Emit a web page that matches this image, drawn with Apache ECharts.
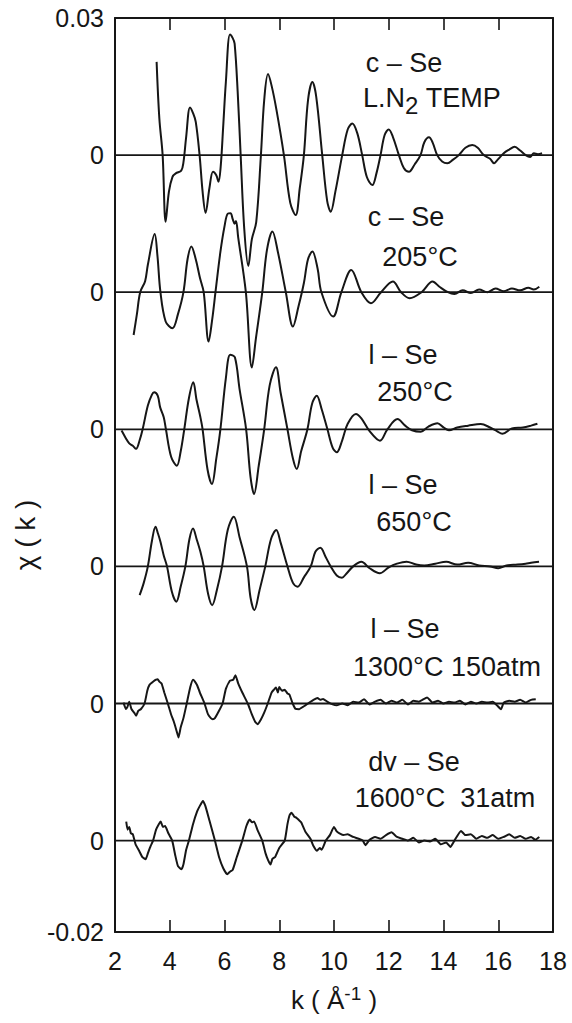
<!DOCTYPE html>
<html>
<head>
<meta charset="utf-8">
<script src="https://cdn.jsdelivr.net/npm/echarts@6/dist/echarts.min.js"></script>
<style>
html,body{margin:0;padding:0;background:#fff;}
#chart{width:572px;height:1023px;}
</style>
</head>
<body>
<div id="chart"></div>
<script>
// ---- Data (k in Å^-1, chi in units of 1e-3) ----
const xTicks = [2, 4, 6, 8, 10, 12, 14, 16, 18];
const kRange = [2, 18];
const yLabelValues = [0.03, 0.0225, 0.015, 0.0075, 0, -0.0075, -0.015, -0.02];
const yLabelTexts = ['0.03', '0', '0', '0', '0', '0', '0', '-0.02'];
const curveOffsets = [0.0225, 0.015, 0.0075, 0, -0.0075, -0.015];
const chiUnit = 0.001;

const kLN2 = [3.52,3.62,3.74,3.85,3.97,4.1,4.22,4.42,4.5,4.6,4.74,4.85,4.95,5.09,5.2,5.31,5.45,5.58,5.7,5.78,5.86,5.95,6.05,6.2,6.3,6.37,6.48,6.59,6.72,6.87,7.0,7.16,7.33,7.45,7.59,7.72,7.9,8.17,8.4,8.6,8.75,8.9,9.05,9.21,9.35,9.57,9.75,9.88,10.05,10.3,10.5,10.67,10.85,11.03,11.2,11.4,11.55,11.7,11.85,12.0,12.15,12.37,12.55,12.74,12.95,13.16,13.3,13.47,13.6,13.77,13.95,14.14,14.35,14.56,14.8,15.05,15.25,15.47,15.7,15.85,15.95,16.2,16.4,16.6,16.8,17.0,17.17,17.3,17.45,17.6];
const chiLN2 = [5.1,2.0,0,-3.65,-2.0,-1.19,-1.0,-0.85,-0.4,1.0,2.61,2.3,1.82,0,-2.0,-3.16,-1.8,-0.91,-1.1,-1.46,-0.64,1.5,4.0,6.6,6.4,6.1,3.5,0,-4.0,-6.06,-4.6,-3.65,0,3.0,4.43,3.8,2.46,0,-2.6,-3.28,-1.8,0,3.0,4.0,3.2,0,-2.5,-3.1,-2.0,0,1.4,1.73,1.2,0,-1.2,-1.64,-1.0,0,1.1,1.4,1.0,0,-0.7,-0.91,-0.5,0,0.7,0.97,0.7,0,-0.35,-0.45,-0.25,0,0.4,0.55,0.4,0,-0.2,-0.45,-0.3,0.1,0.3,0.45,0.25,0,-0.1,0.1,0.05,0.1];

const k205 = [2.68,2.8,2.92,3.1,3.2,3.45,3.55,3.66,3.85,4.1,4.3,4.5,4.65,4.79,4.95,5.1,5.24,5.42,5.55,5.67,5.85,6.0,6.12,6.22,6.3,6.37,6.42,6.5,6.78,7.0,7.15,7.38,7.55,7.75,7.95,8.24,8.5,8.7,8.9,9.05,9.21,9.4,9.54,9.97,10.27,10.63,11.0,11.35,11.72,12.15,12.45,12.76,13.2,13.6,13.85,14.16,14.4,14.7,15.0,15.3,15.6,15.9,16.2,16.5,16.8,17.1,17.3,17.5];
const chi205 = [-2.34,-1.2,0,0.6,1.5,3.19,2.0,0,-1.6,-1.97,-1.2,0,1.8,2.5,1.8,0.8,0,-2.7,-1.5,0,2.2,3.6,4.3,4.32,4.0,3.75,3.9,3.0,0,-4.12,-2.5,0,2.3,3.32,2.2,0,-1.88,-0.8,0.5,1.8,2.22,1.3,0,-1.33,0,1.22,0,-0.6,0,0.58,0,-0.33,0,0.58,0.3,0,-0.1,0.1,-0.05,0.15,0.0,0.2,0.05,0.2,0.1,0.25,0.15,0.3];

const k250 = [2.24,2.4,2.52,2.65,2.77,2.9,3.01,3.2,3.35,3.43,3.56,3.65,3.78,3.86,4.05,4.26,4.4,4.53,4.7,4.86,4.98,5.12,5.2,5.38,5.54,5.7,5.85,6.05,6.21,6.38,6.55,6.79,6.95,7.08,7.25,7.45,7.65,7.88,8.05,8.3,8.5,8.64,8.8,9.03,9.2,9.37,9.55,9.76,9.95,10.1,10.3,10.5,10.8,11.0,11.3,11.68,11.95,12.32,12.6,12.85,13.17,13.45,13.78,14.0,14.2,14.5,14.9,15.36,15.7,15.95,16.15,16.5,16.9,17.2,17.43];
const chi250 = [-0.07,-0.5,-0.77,-0.9,-1.07,-0.6,0,1.3,1.9,2.02,1.84,1.2,0.66,0,-1.5,-1.99,-1.2,0,1.7,2.57,1.6,0.66,0,-2.2,-2.99,-1.6,0,2.8,4.08,3.94,2.2,0,-2.6,-3.54,-2.0,0,2.4,3.39,2.0,0,-1.6,-2.17,-1.2,0,1.4,1.84,1.1,0,-1.0,-1.26,-0.6,0.3,0.84,0.6,-0.1,-0.62,0,0.56,0.2,-0.05,-0.13,0.15,0.33,0.1,-0.05,0.1,0.2,0.29,0.1,-0.1,-0.25,0.05,0.1,0.2,0.3];

const k650 = [2.9,3.05,3.2,3.35,3.48,3.57,3.66,3.78,3.9,4.08,4.24,4.4,4.57,4.72,4.85,4.98,5.12,5.24,5.4,5.55,5.72,5.91,6.12,6.34,6.55,6.82,6.95,7.09,7.28,7.49,7.7,7.89,8.05,8.3,8.5,8.67,8.9,9.15,9.32,9.5,9.7,9.88,10.1,10.29,10.45,10.7,11.0,11.3,11.67,12.0,12.3,12.65,13.0,13.3,13.7,14.1,14.5,14.9,15.3,15.7,16.0,16.3,16.7,17.0,17.2,17.49];
const chi650 = [-1.57,-0.9,0,1.4,2.17,1.8,1.35,0.6,0,-1.4,-1.93,-1.1,0,1.5,2.08,1.5,0.8,0,-1.5,-2.12,-1.3,0,2.0,2.72,1.6,0,-1.7,-2.39,-1.3,0,1.5,1.99,1.3,0,-0.9,-1.11,-0.6,0,0.8,1.02,0.5,0,-0.5,-0.62,-0.4,0,0.26,-0.1,-0.38,-0.05,0.15,0.26,0.1,0.05,0.15,0.25,0.1,0.2,0.05,0.0,-0.1,0.05,0.1,0.15,0.2,0.25];

const k1300 = [2.31,2.4,2.45,2.52,2.6,2.7,2.77,2.85,2.95,3.08,3.18,3.26,3.4,3.5,3.56,3.62,3.7,3.8,3.93,4.05,4.15,4.25,4.32,4.4,4.5,4.62,4.75,4.85,4.92,5.0,5.1,5.27,5.4,5.5,5.57,5.65,5.8,5.93,6.05,6.2,6.32,6.4,6.5,6.65,6.85,7.0,7.12,7.21,7.32,7.45,7.58,7.72,7.8,7.88,7.95,8.0,8.1,8.2,8.3,8.37,8.49,8.6,8.73,8.85,8.95,9.1,9.25,9.4,9.5,9.6,9.75,9.95,10.1,10.3,10.5,10.7,10.9,11.1,11.3,11.5,11.7,11.9,12.1,12.3,12.5,12.7,12.9,13.1,13.4,13.6,13.8,14.0,14.2,14.4,14.6,14.8,15.0,15.2,15.4,15.6,15.8,15.95,16.1,16.2,16.4,16.6,16.8,17.0,17.2,17.37];
const chi1300 = [0.05,-0.3,-0.2,0.1,-0.3,-0.5,-0.67,-0.4,-0.3,0,0.7,1.02,1.2,1.3,1.33,1.2,1.1,0.6,0,-0.6,-1.0,-1.5,-1.86,-1.3,-0.8,0,0.9,1.3,1.2,1.0,0.6,0,-0.6,-0.8,-0.86,-0.8,-0.4,0,0.8,1.25,1.3,1.55,1.1,0.6,0,-0.6,-1.0,-1.13,-0.9,-0.5,0,0.6,0.75,0.88,0.6,0.9,0.7,0.75,0.55,0.5,0,-0.3,-0.31,-0.2,-0.1,0.05,0.2,0.3,0.2,0.25,0.1,-0.05,-0.1,0.0,-0.1,0.1,0.05,0.23,-0.05,0.1,0.2,0.0,0.15,0.05,0.2,-0.05,0.15,0.1,0.33,0.05,0.15,0.0,0.1,0.05,0.15,-0.05,0.1,0.0,0.1,0.05,0.1,-0.1,-0.31,0.05,0.15,0.1,0.2,0.05,0.2,0.23];

const k1600 = [2.41,2.46,2.52,2.58,2.65,2.75,2.88,3.0,3.12,3.2,3.3,3.39,3.5,3.6,3.67,3.75,3.83,3.95,4.09,4.2,4.3,4.43,4.5,4.6,4.7,4.85,5.0,5.1,5.21,5.3,5.45,5.65,5.8,5.95,6.1,6.2,6.3,6.45,6.65,6.8,6.92,7.0,7.08,7.2,7.38,7.5,7.6,7.68,7.75,7.85,8.0,8.2,8.3,8.38,8.45,8.55,8.62,8.7,8.8,8.95,9.14,9.25,9.38,9.48,9.55,9.7,9.85,10.0,10.1,10.2,10.35,10.5,10.7,10.9,11.05,11.15,11.3,11.5,11.7,11.9,12.1,12.3,12.5,12.7,12.9,13.1,13.3,13.5,13.7,13.9,14.1,14.25,14.4,14.64,14.8,15.0,15.2,15.4,15.6,15.8,16.0,16.2,16.4,16.6,16.8,17.0,17.2,17.35,17.5];
const chi1600 = [1.04,0.6,0.75,0.4,0.35,-0.2,-0.56,-0.9,-1.02,-0.7,-0.3,0,0.6,0.9,1.04,0.75,0.8,0.4,0,-0.8,-1.4,-1.57,-1.3,-0.5,0,0.9,1.6,1.9,2.17,1.9,1.1,0,-0.9,-1.5,-1.84,-1.7,-1.6,-0.9,0,0.8,1.16,1.0,1.05,0.6,0,-0.7,-1.1,-1.31,-1.0,-0.9,-0.4,0,0.9,1.4,1.53,1.3,1.26,1.15,1.0,0.5,0.1,-0.3,-0.56,-0.4,-0.5,0.0,0.3,0.75,0.5,0.4,0.3,0.35,0.2,0.1,0.0,-0.25,0.05,0.2,0.1,0.3,0.45,0.2,0.1,0.0,0.15,-0.1,0.0,-0.05,0.1,-0.2,-0.1,-0.35,0.0,0.53,0.3,0.35,0.1,0.25,0.15,0.3,0.1,0.2,0.35,0.15,0.25,0.1,0.2,0.05,0.2];

const curveNames = ['c-Se L.N2 TEMP', 'c-Se 205°C', 'l-Se 250°C', 'l-Se 650°C', 'l-Se 1300°C 150atm', 'dv-Se 1600°C 31atm'];
const curveK = [kLN2, k205, k250, k650, k1300, k1600];
const curveChi = [chiLN2, chi205, chi250, chi650, chi1300, chi1600];

// ---- Chart ----
const FONT = "'Liberation Sans', Arial, sans-serif";
const INK = '#161616';
const chart = echarts.init(document.getElementById('chart'), null, {renderer: 'svg'});

function yLabel(v) {
  for (let i = 0; i < yLabelValues.length; i++) {
    if (Math.abs(v - yLabelValues[i]) < 1e-9) return yLabelTexts[i];
  }
  return '';
}

const baselineSeries = curveOffsets.map((off, i) => ({
  name: 'baseline ' + (i + 1),
  type: 'line',
  showSymbol: false,
  symbol: 'none',
  silent: true,
  lineStyle: {color: INK, width: 1.8},
  data: kRange.map(k => [k, off]),
  z: 2
}));

const curveSeries = curveNames.map((name, i) => ({
  name: name,
  type: 'line',
  showSymbol: false,
  symbol: 'none',
  smooth: i >= 4 ? 0.15 : 0.35,
  lineStyle: {color: INK, width: 2},
  data: curveK[i].map((k, j) => [k, curveOffsets[i] + curveChi[i][j] * chiUnit]),
  z: 3
}));

const annText = (text, x, y) => ({
  type: 'text', x: x, y: y, silent: true,
  style: {text: text, fill: INK, font: '27px ' + FONT, textAlign: 'center', textVerticalAlign: 'middle'}
});

const option = {
  animation: false,
  backgroundColor: '#fff',
  grid: {left: 115, right: 19, top: 18, bottom: 91, containLabel: false},
  xAxis: [{
    type: 'value', min: 2, max: 18, interval: 2, position: 'bottom',
    axisLine: {show: true, onZero: false, lineStyle: {color: INK, width: 2}},
    axisTick: {show: true, inside: true, length: 12, lineStyle: {color: INK, width: 1.6}},
    splitLine: {show: false},
    axisLabel: {show: true, margin: 16, color: INK, fontSize: 25, fontFamily: FONT,
      showMinLabel: true, showMaxLabel: true,
      formatter: v => (xTicks.indexOf(v) >= 0 ? String(v) : '')},
    name: 'k ( Å{sup|-1} )', nameLocation: 'middle', nameGap: 52,
    nameTextStyle: {color: INK, fontSize: 26, fontFamily: FONT,
      rich: {sup: {fontSize: 19, fontFamily: FONT, color: INK, verticalAlign: 'top', padding: [0, 0, 12, 0]}}}
  }, {
    type: 'value', min: 2, max: 18, interval: 2, position: 'top',
    axisLine: {show: true, onZero: false, lineStyle: {color: INK, width: 2}},
    axisTick: {show: true, inside: true, length: 12, lineStyle: {color: INK, width: 1.6}},
    splitLine: {show: false},
    axisLabel: {show: false}
  }],
  yAxis: [{
    type: 'value', min: -0.02, max: 0.03, interval: 0.0025, position: 'left',
    axisLine: {show: true, onZero: false, lineStyle: {color: INK, width: 2}},
    axisTick: {show: false},
    splitLine: {show: false},
    axisLabel: {show: true, margin: 11, color: INK, fontSize: 25, fontFamily: FONT,
      showMinLabel: true, showMaxLabel: true, formatter: yLabel}
  }, {
    type: 'value', min: -0.02, max: 0.03, interval: 0.0025, position: 'right',
    axisLine: {show: true, onZero: false, lineStyle: {color: INK, width: 2}},
    axisTick: {show: false},
    splitLine: {show: false},
    axisLabel: {show: false}
  }],
  series: baselineSeries.concat(curveSeries),
  graphic: [
    annText('c – Se', 404, 63),
    {
      type: 'text', x: 432, y: 97.5, silent: true,
      style: {text: 'L.N{sub|2} TEMP', fill: INK, font: '27px ' + FONT, textAlign: 'center', textVerticalAlign: 'middle',
        rich: {sub: {fontSize: 24, fontFamily: FONT, fill: INK, verticalAlign: 'bottom', padding: [16, 0, 0, 0]}}}
    },
    annText('c – Se', 406, 217),
    annText('205°C', 420, 257),
    annText('l – Se', 403, 355),
    annText('250°C', 415, 392),
    annText('l – Se', 403, 485),
    annText('650°C', 414, 522),
    annText('l – Se', 405, 629),
    annText('1300°C 150atm', 447, 667),
    annText('dv – Se', 414, 762),
    annText('1600°C  31atm', 445, 798),
    {
      type: 'text', x: 25, y: 535, rotation: Math.PI / 2, silent: true,
      style: {text: 'χ ( k )', fill: INK, font: '28px ' + FONT, textAlign: 'center', textVerticalAlign: 'middle'}
    }
  ]
};
chart.setOption(option);
</script>
</body>
</html>
